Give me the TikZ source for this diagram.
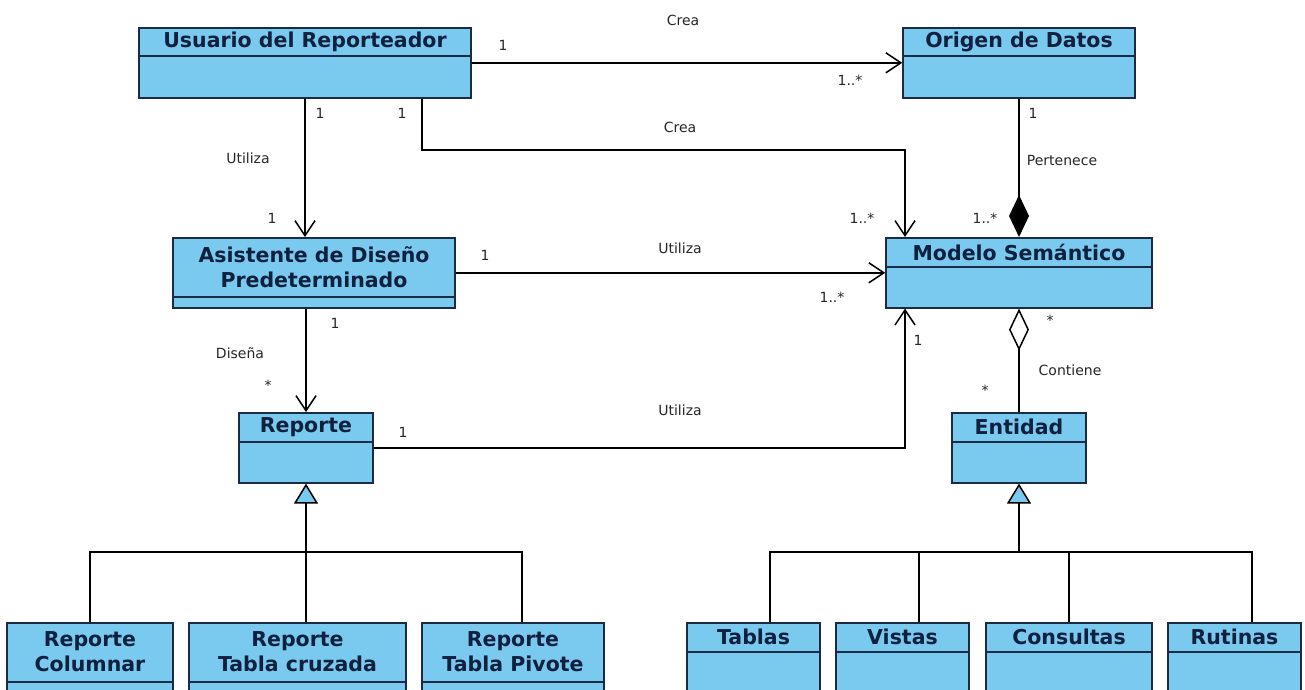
\documentclass[tikz,border=0pt]{standalone}
\usepackage{fontspec}
\setmainfont{DejaVu Sans}
\usetikzlibrary{arrows.meta,calc,positioning}
\definecolor{umlfill}{HTML}{7AC9EF}
\definecolor{umlline}{HTML}{1C2B45}
\definecolor{umltext}{HTML}{10213F}
\tikzset{
  class box/.style={draw=umlline,fill=umlfill,line width=1.6pt,inner sep=0pt},
  class title/.style={text=umltext,font=\bfseries\fontsize{20.5}{25}\selectfont,align=center,inner sep=0pt},
  role/.style={font=\fontsize{14}{16}\selectfont,text=black!85,inner sep=1pt},
  assoc/.style={line width=1.5pt,-{Straight Barb[length=15pt,width=20pt]}},
  plain/.style={line width=1.5pt},
  compo/.style={line width=1.5pt,-{Diamond[length=42pt,width=20pt]}},
  aggre/.style={line width=1.5pt,-{Diamond[open,fill=white,length=42pt,width=20pt]}},
  inherit/.style={line width=1.5pt,{Triangle[length=20pt,width=24pt,fill=umlfill]}-},
}
% class: name, centre x, top y, width, title height, height, title
\newcommand{\umlclass}[7]{%
  \node[class box,anchor=north,minimum width=#4,minimum height=#6] (#1) at (#2,#3) {};
  \draw[umlline,line width=1.6pt] ([yshift=-#5]#1.north west) -- ([yshift=-#5]#1.north east);
  \node[class title] (#1 title) at ([yshift=-#5/2]#1.north) {#7};
}

\begin{document}
\begin{tikzpicture}[x=1pt,y=-1pt]
	\clip (0,0) rectangle (1305,689);
	\fill[white] (0,0) rectangle (1305,689);
	
	\umlclass{usuario}{305}{27}{332}{29}{70}{Usuario del Reporteador}
	\umlclass{origen}{1019}{27}{232}{29}{70}{Origen de Datos}
	\umlclass{asistente}{314}{237}{282}{60}{70}{Asistente de Diseño\\Predeterminado}
	\umlclass{modelo}{1019}{237}{266}{30}{70}{Modelo Semántico}
	\umlclass{reporte}{306}{412}{134}{30}{70}{Reporte}
	\umlclass{entidad}{1019}{412}{134}{30}{70}{Entidad}
	
	\umlclass{columnar}{90}{622}{166}{60}{110}{Reporte\\Columnar}
	\umlclass{cruzada}{297.5}{622}{217}{60}{110}{Reporte\\Tabla cruzada}
	\umlclass{pivote}{513}{622}{182}{60}{110}{Reporte\\Tabla Pivote}
	\umlclass{tablas}{753.5}{622}{133}{30}{110}{Tablas}
	\umlclass{vistas}{902.5}{622}{133}{30}{110}{Vistas}
	\umlclass{consultas}{1069}{622}{166}{30}{110}{Consultas}
	\umlclass{rutinas}{1234.5}{622}{133}{30}{110}{Rutinas}
	
	% associations
	\coordinate (crea) at (905,150);
	\draw[assoc] (usuario.east) -- (origen.west);
	\draw[assoc] ([xshift=117]usuario.south) |- (crea) -- (crea |- modelo.north);
	\draw[assoc] (usuario.south) -- (usuario.south |- asistente.north);
	\draw[compo] (origen.south) -- (modelo.north);
	\draw[assoc] (asistente.east) -- (modelo.west);
	\draw[assoc] (asistente.south -| reporte.north) -- (reporte.north);
	\draw[assoc] (reporte.east) -| (crea |- modelo.south);
	\draw[aggre] (entidad.north) -- (modelo.south);
	
	% generalizations
	\coordinate (rj) at (306,552);
	\draw[inherit] (reporte.south) -- (rj);
	\draw[plain] (columnar.north) |- (rj) -| ([xshift=9]pivote.north);
	\draw[plain] (rj) -- (rj |- cruzada.north);
	
	\coordinate (ej) at (1019,552);
	\draw[inherit] (entidad.south) -- (ej);
	\draw[plain] ([xshift=16.5]tablas.north) |- (ej) -| ([xshift=17.5]rutinas.north);
	\draw[plain] ([xshift=16.5]vistas.north) -- ([xshift=16.5]vistas.north |- ej);
	\draw[plain] (consultas.north) -- (consultas.north |- ej);
	
	% labels
	\node[role] (crea1) at (683,20) {Crea};
	\node[role] (m1) at (503,45) {1};
	\node[role] (m2) at (850,80) {1..*};
	\node[role] (m3) at (320,113) {1};
	\node[role] (m4) at (402,113) {1};
	\node[role] (crea2) at (680,127) {Crea};
	\node[role] (m5) at (1033,113) {1};
	\node[role] (util1) at (248,158) {Utiliza};
	\node[role] (pert) at (1062,160) {Pertenece};
	\node[role] (m6) at (272,218) {1};
	\node[role] (m7) at (862,218) {1..*};
	\node[role] (m8) at (985,218) {1..*};
	\node[role] (m9) at (485,255) {1};
	\node[role] (util2) at (680,248) {Utiliza};
	\node[role] (m10) at (832,297) {1..*};
	\node[role] (m11) at (335,323) {1};
	\node[role] (m12) at (1050,320) {*};
	\node[role] (m13) at (918,340) {1};
	\node[role] (dise) at (240,353) {Diseña};
	\node[role] (cont) at (1070,370) {Contiene};
	\node[role] (m14) at (268,385) {*};
	\node[role] (m15) at (985,390) {*};
	\node[role] (util3) at (680,410) {Utiliza};
	\node[role] (m16) at (403,432) {1};
\end{tikzpicture}
\end{document}
